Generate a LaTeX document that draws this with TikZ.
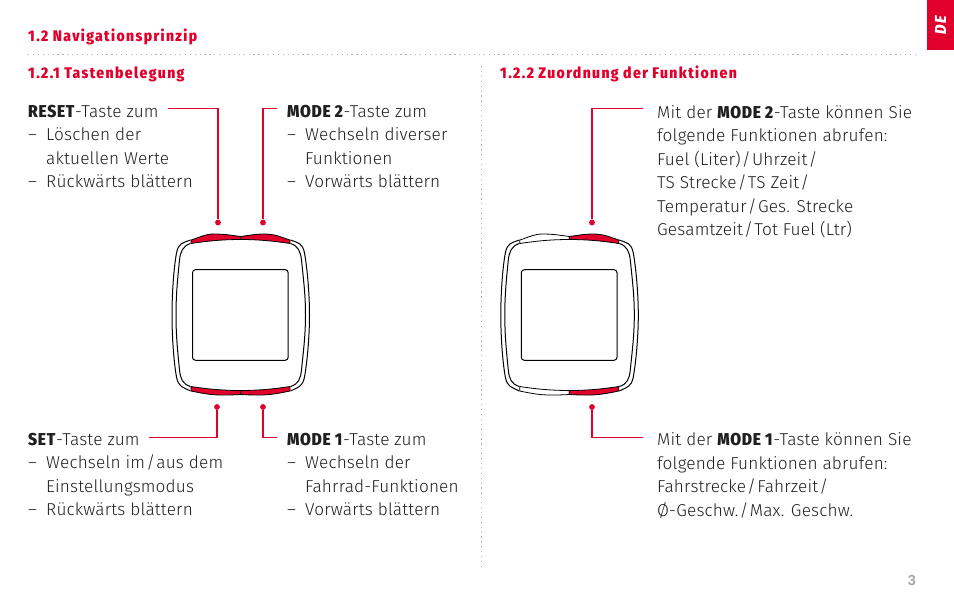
\documentclass[tikz,border=0pt]{standalone}
\usepackage{fontspec}
\setmainfont{Fira Sans Light}[BoldFont={Fira Sans Condensed ExtraBold},LetterSpace=1]
\newfontfamily\headfont{Fira Sans Condensed ExtraBold}[LetterSpace=9]
\newfontfamily\pagefont{Liberation Sans Bold}
\usepackage{xcolor}
\usetikzlibrary{calc}
\usetikzlibrary{positioning}
\definecolor{tabred}{HTML}{E0002B}
\definecolor{dotgray}{HTML}{B0B0B0}
\definecolor{pagegray}{HTML}{A6A6A6}
\newcommand{\itm}[1]{\makebox[18pt][l]{--}#1}
\newcommand{\cnt}[1]{\hspace*{18pt}#1}
\newcommand{\key}[1]{\textbf{\addfontfeatures{LetterSpace=4}#1}}
\newcommand{\slsh}{\kern1.2pt/\kern1.2pt}
\tikzset{
  infotext/.style={anchor=north west,inner sep=0pt,align=left,font=\fontsize{17.2}{23.5}\selectfont,text=black!88,execute at begin node=\rule{0pt}{14pt}},
  headline/.style={anchor=base west,inner sep=0pt,text=tabred,font=\headfont\fontsize{15.4}{18}\selectfont},
  lead/.style={draw=tabred,line width=1.2pt},
  leaddot/.style={circle,fill=tabred,inner sep=0pt,minimum size=5.8pt},
  ruleline/.style={draw=dotgray,line width=1.3pt,dash pattern=on 1.2pt off 3.7pt},
  pics/watch/.style 2 args={code={
    % body, outer edge
    \draw[line width=1pt] (-50,-75) .. controls (-58,-72) and (-62,-72) .. (-64,-62)
      .. controls (-67,-45) and (-68.5,-20) .. (-68.5,0)
      .. controls (-68.5,20) and (-67,45) .. (-64,62)
      .. controls (-62,72) and (-58,72) .. (-50,76);
    \draw[line width=1pt] (50,-75) .. controls (58,-72) and (62,-72) .. (64,-62)
      .. controls (67,-45) and (69,-20) .. (69,0)
      .. controls (69,20) and (67,45) .. (64,62)
      .. controls (62,72) and (58,72) .. (50,76);
    % body, inner edge
    \draw[line width=1pt] (-50,-71.5) .. controls (-58,-69) and (-60,-63) .. (-61,-55)
      .. controls (-63,-35) and (-64.5,-20) .. (-64.5,0)
      .. controls (-64.5,20) and (-63,35) .. (-61,55)
      .. controls (-60,64) and (-58,69) .. (-50,71.5);
    \draw[line width=1pt] (50,-71.5) .. controls (58,-69) and (60,-63) .. (61,-55)
      .. controls (63,-35) and (65,-20) .. (65,0)
      .. controls (65,20) and (63,35) .. (61,55)
      .. controls (60,64) and (58,69) .. (50,71.5);
    % buttons
    \draw[line width=.8pt,fill=#1] (0,-75.5) .. controls (-15,-75.5) and (-30,-74.5) .. (-49.5,-71.5) -- (-49.5,-75)
      .. controls (-40,-78) and (-35,-81) .. (-27,-81) .. controls (-15,-81) and (-8,-79.5) .. (0,-78.5) -- cycle;
    \draw[line width=.8pt,fill=#2] (0,-75.5) .. controls (15,-75.5) and (30,-74.5) .. (49.5,-71.5) -- (49.5,-75)
      .. controls (40,-78) and (35,-81) .. (23,-81) .. controls (15,-81) and (8,-79.5) .. (0,-78.5) -- cycle;
    \draw[line width=.8pt,fill=#1] (0,75.5) .. controls (-15,75.5) and (-30,74.5) .. (-49.5,71.5) -- (-49.5,76)
      .. controls (-40,78) and (-30,80) .. (-20,80) .. controls (-12,80) and (-8,80) .. (0,79.5) -- cycle;
    \draw[line width=.8pt,fill=#2] (0,75.5) .. controls (15,75.5) and (30,74.5) .. (49.5,71.5) -- (49.5,76)
      .. controls (40,78) and (30,80) .. (20,80) .. controls (12,80) and (8,80) .. (0,79.5) -- cycle;
    % display
    \draw[line width=1pt,rounded corners=3pt] (-48,-45.3) rectangle (47.7,45.3);
  }}
}
\begin{document}
\begin{tikzpicture}[x=1pt,y=-1pt]
  \useasboundingbox (0,0) rectangle (954,603);
  \fill[white] (0,0) rectangle (954,603);

  % language tab
  \fill[tabred] (927,0) rectangle (954,50);
  \node[rotate=90,text=white,font=\headfont\itshape\fontsize{16}{18}\selectfont,inner sep=0pt] (tablabel) at (940.5,25) {DE};

  % headlines
  \node[headline] (mainhead) at (28,41) {1.2 Navigationsprinzip};
  \coordinate (rulestart) at (28,54.5);
  \coordinate (ruleend) at (916,54.5);
  \draw[ruleline] (rulestart) -- (ruleend);
  \node[headline] (lefthead) at (28,78.5) {1.2.1 Tastenbelegung};
  \node[headline] (righthead) at (500,78.5) {1.2.2 Zuordnung der Funktionen};
  \coordinate (splittop) at (481.5,66);
  \coordinate (splitbottom) at (481.5,566);
  \draw[ruleline] (splittop) -- (splitbottom);

  % key texts, left page
  \node[infotext] (resettext) at (28,105) {\key{RESET}-Taste zum\\\itm{Löschen der}\\\cnt{aktuellen Werte}\\\itm{Rückwärts blättern}};
  \node[infotext] (modetwotext) at (287,105) {\key{MODE 2}-Taste zum\\\itm{Wechseln diverser}\\\cnt{Funktionen}\\\itm{Vorwärts blättern}};
  \node[infotext] (settext) at (28,432.8) {\key{SET}-Taste zum\\\itm{Wechseln im\slsh aus dem}\\\cnt{Einstellungsmodus}\\\itm{Rückwärts blättern}};
  \node[infotext] (modeonetext) at (287,432.8) {\key{MODE 1}-Taste zum\\\itm{Wechseln der}\\\cnt{Fahrrad-Funktionen}\\\itm{Vorwärts blättern}};

  % key texts, right page
  \node[infotext] (funcupper) at (657,105) {Mit der \key{MODE 2}-Taste können Sie\\folgende Funktionen abrufen:\\Fuel (Liter)\slsh Uhrzeit\slsh\\TS Strecke\slsh TS Zeit\slsh\\Temperatur\slsh Ges. Strecke\\Gesamtzeit\slsh Tot Fuel (Ltr)};
  \node[infotext] (funclower) at (657,432.8) {Mit der \key{MODE 1}-Taste können Sie\\folgende Funktionen abrufen:\\Fahrstrecke\slsh Fahrzeit\slsh\\Ø-Geschw.\slsh Max. Geschw.};

  % devices
  \pic (leftwatch) at (240.5,315) {watch={tabred}{tabred}};
  \pic (rightwatch) at (569.3,315) {watch={white}{tabred}};

  % leader lines
  \node[leaddot] (dotreset) at (218,222.5) {};
  \node[leaddot] (dotmodetwo) at (263,222.5) {};
  \node[leaddot] (dotset) at (217,407) {};
  \node[leaddot] (dotmodeone) at (263,407) {};
  \node[leaddot] (dotupper) at (592,222.5) {};
  \node[leaddot] (dotlower) at (592,407) {};
  \coordinate (resetend) at (168,108.5);
  \coordinate (modetwoend) at (277,108.5);
  \coordinate (setend) at (149,437.5);
  \coordinate (modeoneend) at (277,437.5);
  \coordinate (upperend) at (643,108.5);
  \coordinate (lowerend) at (643,437.5);
  \draw[lead] (resetend) -| (dotreset);
  \draw[lead] (modetwoend) -| (dotmodetwo);
  \draw[lead] (setend) -| (dotset);
  \draw[lead] (modeoneend) -| (dotmodeone);
  \draw[lead] (upperend) -| (dotupper);
  \draw[lead] (lowerend) -| (dotlower);

  % page number
  \node[inner sep=0pt,text=pagegray,font=\pagefont\fontsize{14.5}{15}\selectfont] (pagenumber) at (912,581) {3};
\end{tikzpicture}
\end{document}
